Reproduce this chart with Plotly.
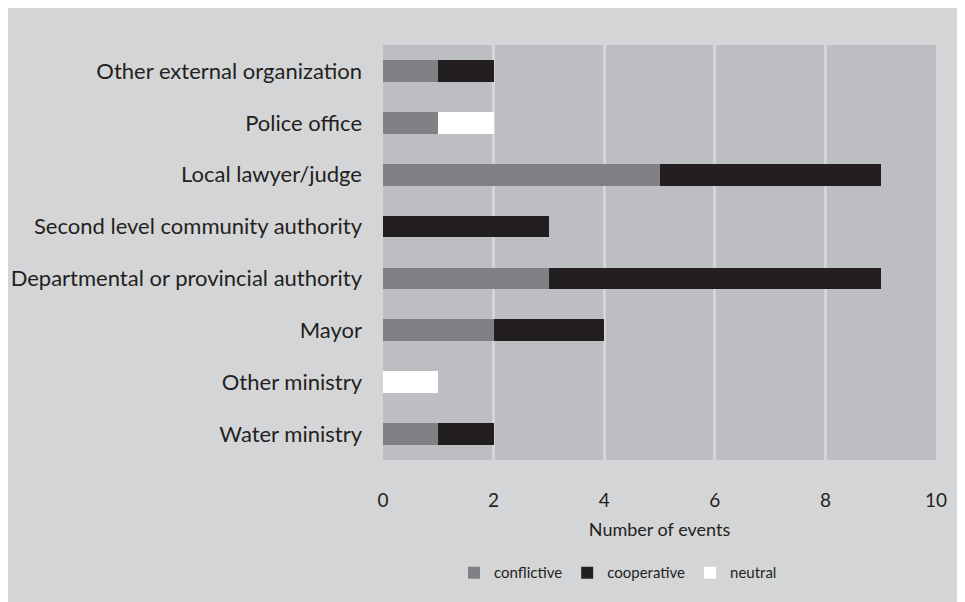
import plotly.graph_objects as go

# authority types, bottom to top
authorities = [
    "Water ministry",
    "Other ministry",
    "Mayor",
    "Departmental or provincial authority",
    "Second level community authority",
    "Local lawyer/judge",
    "Police office",
    "Other external organization",
]
conflictive = [1, 0, 2, 3, 0, 5, 1, 1]
cooperative = [1, 0, 2, 6, 3, 4, 0, 1]
neutral = [0, 1, 0, 0, 0, 0, 1, 0]

x_ticks = [0, 2, 4, 6, 8, 10]

FONT = "Lato, 'DejaVu Sans', sans-serif"
PANEL = "#d4d5d7"
PLOT_BG = "#bdbec1"

fig = go.Figure()
fig.add_trace(go.Bar(y=authorities, x=conflictive, name="conflictive",
                     orientation="h", marker=dict(color="#808184", line_width=0)))
fig.add_trace(go.Bar(y=authorities, x=cooperative, name="cooperative",
                     orientation="h", marker=dict(color="#231f20", line_width=0)))
fig.add_trace(go.Bar(y=authorities, x=neutral, name="neutral",
                     orientation="h", marker=dict(color="#ffffff", line_width=0)))

# page body margin (8px) gives the white border at top/left
W, H = 957, 594
L, R, T, B = 375, 29, 37, 142

fig.update_layout(
    barmode="stack",
    bargap=0.58,
    width=W, height=H,
    margin=dict(l=L, r=R, t=T, b=B, autoexpand=False),
    paper_bgcolor=PANEL,
    plot_bgcolor=PLOT_BG,
    font=dict(family=FONT, color="#231f20", size=22),
    legend=dict(orientation="h", x=0.425, xanchor="center", y=-0.272, yanchor="middle",
                font=dict(size=15), traceorder="normal", itemwidth=30,
                bgcolor="rgba(0,0,0,0)"),
    showlegend=True,
)
fig.update_xaxes(range=[0, 10], tickvals=x_ticks, showgrid=True,
                 gridcolor=PANEL, gridwidth=3, zeroline=False, automargin=False,
                 tickfont=dict(size=19), ticks="", ticklabelstandoff=27,
                 title=dict(text="Number of events", font=dict(size=18), standoff=13))
fig.update_yaxes(showgrid=False, ticks="", ticklabelstandoff=20, automargin=False,
                 tickfont=dict(size=22))

fig.write_html("out.html")
